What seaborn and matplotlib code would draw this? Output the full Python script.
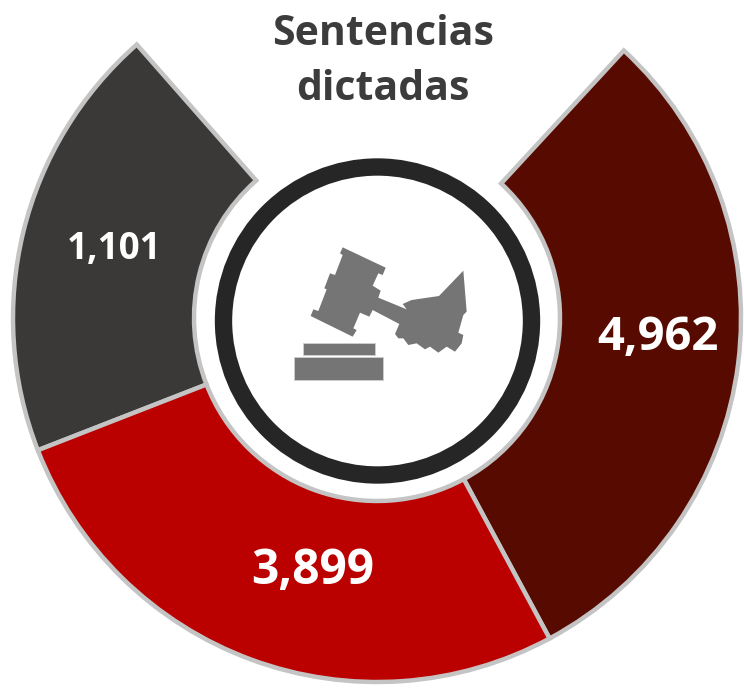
import matplotlib
matplotlib.use("Agg")
import matplotlib.pyplot as plt
from matplotlib.patches import Circle, Polygon
import seaborn as sns

# Data
values = [4962, 1101, 3899]
value_labels = ["4,962", "1,101", "3,899"]
arc_degrees = [109.0, 84.0, 70.0, 97.0]   # first slice, open gap, second, third
slice_colors = ["#560a00", "none", "#3a3938", "#bb0000"]
edge_colors = ["#c4c4c4", "none", "#c4c4c4", "#c4c4c4"]
title_lines = "Sentencias\ndictadas"

sns.set_theme(style="white")
plt.rcParams["font.family"] = ["Open Sans", "DejaVu Sans"]

W, H = 744, 688
fig = plt.figure(figsize=(W / 100, H / 100), dpi=100, facecolor="white")
ax = fig.add_axes([0, 0, 1, 1])

def Y(y):
    return H - y

cx, cy = 377, 318
wedges, _ = ax.pie(arc_degrees, colors=slice_colors, startangle=-61.7, counterclock=True,
                   center=(cx, Y(cy)), radius=364, frame=True,
                   wedgeprops=dict(width=364 - 183, linewidth=3.2, joinstyle="miter"))
for w, e in zip(wedges, edge_colors):
    w.set_edgecolor(e)
    if e == "none":
        w.set_facecolor("none")
ax.set_xlim(0, W)
ax.set_ylim(0, H)
ax.set_aspect("equal")
ax.axis("off")

# Central ring
ax.add_patch(Circle((377.5, Y(321)), 154, facecolor="white", edgecolor="#262626", linewidth=12.5, zorder=3))

# Gavel icon (traced in zoomed-crop coordinates)
def icon(points):
    return [(270 + x / 3, Y(230 + y / 3)) for x, y in points]

gavel = [(218, 52), (347, 113), (338, 135), (325, 130), (308, 167), (332, 182), (325, 203),
         (410, 238), (398, 222), (425, 210), (507, 198), (580, 122), (590, 245), (580, 255),
         (565, 308), (580, 315), (575, 340), (555, 365), (530, 350), (505, 368), (480, 350),
         (465, 358), (440, 340), (415, 345), (400, 325), (385, 325), (375, 312), (388, 282),
         (308, 240), (298, 260), (270, 248), (250, 295), (260, 300), (248, 320), (122, 258),
         (130, 238), (145, 243), (170, 178), (163, 175), (180, 130), (195, 135), (218, 75), (210, 70)]
ax.add_patch(Polygon(icon(gavel), closed=True, facecolor="#757575", edgecolor="none", zorder=4))
for pts in ([(100, 338), (314, 338), (314, 374), (100, 374)],
            [(72, 382), (340, 382), (340, 449), (72, 449)]):
    ax.add_patch(Polygon(icon(pts), closed=True, facecolor="#757575", edgecolor="#cfcfcf", linewidth=0.6, zorder=4))

# Text
ax.text(383, Y(62), title_lines, ha="center", va="center", fontsize=29.5, fontweight="bold",
        color="#3d3c3c", linespacing=1.47, zorder=5)
ax.text(114, Y(249), value_labels[1], ha="center", va="center", fontsize=26.5, fontweight="bold", color="white", zorder=5)
ax.text(658, Y(338), value_labels[0], ha="center", va="center", fontsize=34, fontweight="bold", color="white", zorder=5)
ax.text(313, Y(571), value_labels[2], ha="center", va="center", fontsize=34.5, fontweight="bold", color="white", zorder=5)

fig.savefig("out.png", dpi=100, facecolor="white")
